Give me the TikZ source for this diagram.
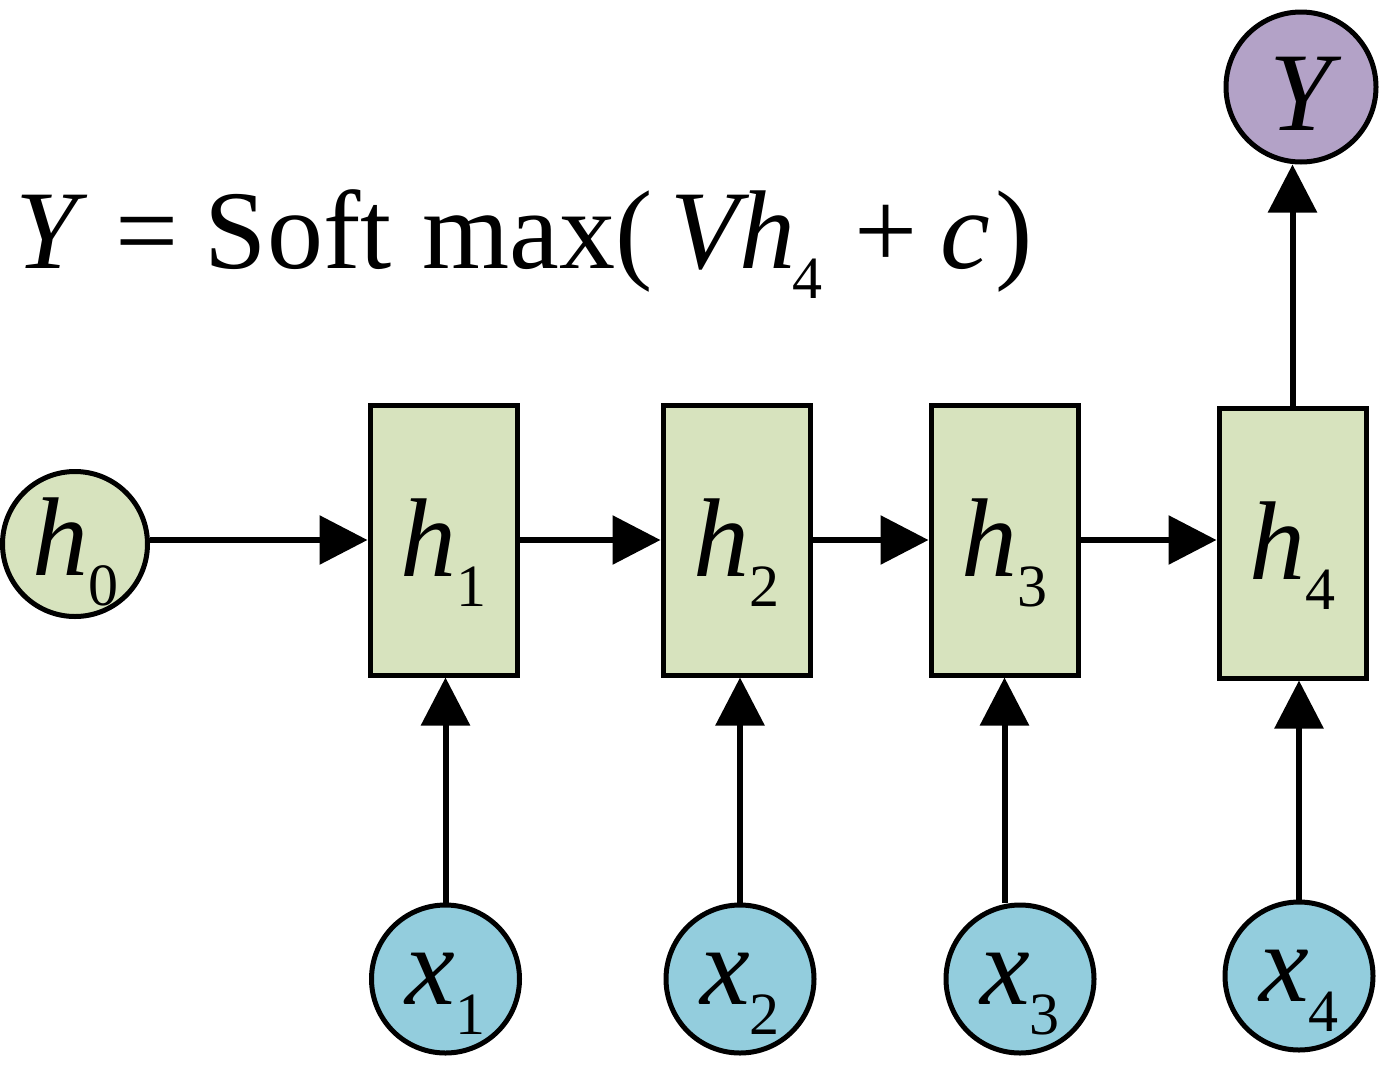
\documentclass[tikz,border=0pt]{standalone}
\usepackage{fontspec}
\setmainfont{Liberation Serif}
\usetikzlibrary{arrows.meta}
\definecolor{hgreen}{RGB}{215,227,190}
\definecolor{xblue}{RGB}{147,205,221}
\definecolor{ypurple}{RGB}{179,162,199}
\newcommand\bigsz{\fontsize{112}{112}\selectfont}
\newcommand\subsz{\fontsize{60}{60}\selectfont}
\newcommand\lab[2]{{\bigsz\itshape #1}\raisebox{-30pt}{\subsz #2}}
\begin{document}
\begin{tikzpicture}[x=1pt,y=-1pt,line width=5pt,
  hbox/.style={rectangle,draw,fill=hgreen,minimum width=147pt,minimum height=270pt,inner sep=0pt,text height=72pt,text depth=0pt},
  incirc/.style={circle,draw,fill=xblue,minimum size=148pt,inner sep=0pt,text height=56pt,text depth=6pt},
  h0circ/.style={circle,draw,fill=hgreen,minimum size=145pt,inner sep=0pt,text height=66pt,text depth=4pt},
  outcirc/.style={circle,draw,fill=ypurple,minimum size=150pt,inner sep=0pt,text height=86pt,text depth=0pt},
  arr/.style={line width=6pt,-{Triangle[length=48pt,width=48pt]}}]
\useasboundingbox (0,0) rectangle (1392,1066);
% nodes
\node[h0circ] (h0) at (75,544) {\lab{h}{0}};
\node[hbox] (h1) at (443.5,540) {\lab{h}{1}};
\node[hbox] (h2) at (736.5,540) {\lab{h}{2}};
\node[hbox] (h3) at (1004.5,540) {\lab{h}{3}};
\node[hbox] (h4) at (1292.5,543) {\lab{h}{4}};
\node[incirc] (x1) at (445.5,979) {\lab{x}{1}};
\node[incirc] (x2) at (740,979) {\lab{x}{2}};
\node[incirc] (x3) at (1020,979) {\lab{x}{3}};
\node[incirc] (x4) at (1299,976) {\lab{x}{4}};
\node[outcirc] (Y) at (1301,87) {{\bigsz\itshape Y}};
\node[anchor=base west,inner sep=0pt,font=\bigsz] (formula) at (13,268)
  {\textit{Y}\hspace{28pt}=\hspace{26pt}Soft\hspace{31pt}max(\hspace{18pt}\textit{Vh}\hspace{-3pt}\raisebox{-30pt}{\subsz 4}\hspace{32pt}+\hspace{23pt}\textit{c}\hspace{5pt})};
% connectors
\coordinate (x3top) at (h3.south |- x3.north);
\draw[arr] (h0.east |- h1.west) -- (h1.west);
\draw[arr] (h1.east) -- (h2.west);
\draw[arr] (h2.east) -- (h3.west);
\draw[arr] (h3.east) -- (h3.east -| h4.west);
\draw[arr] (x1.north) -- (x1.north |- h1.south);
\draw[arr] (x2.north) -- (x2.north |- h2.south);
\draw[arr] (x3top) -- (h3.south);
\draw[arr] (x4.north) -- (x4.north |- h4.south);
\draw[arr] (h4.north) -- (h4.north |- Y.south);
\end{tikzpicture}
\end{document}
